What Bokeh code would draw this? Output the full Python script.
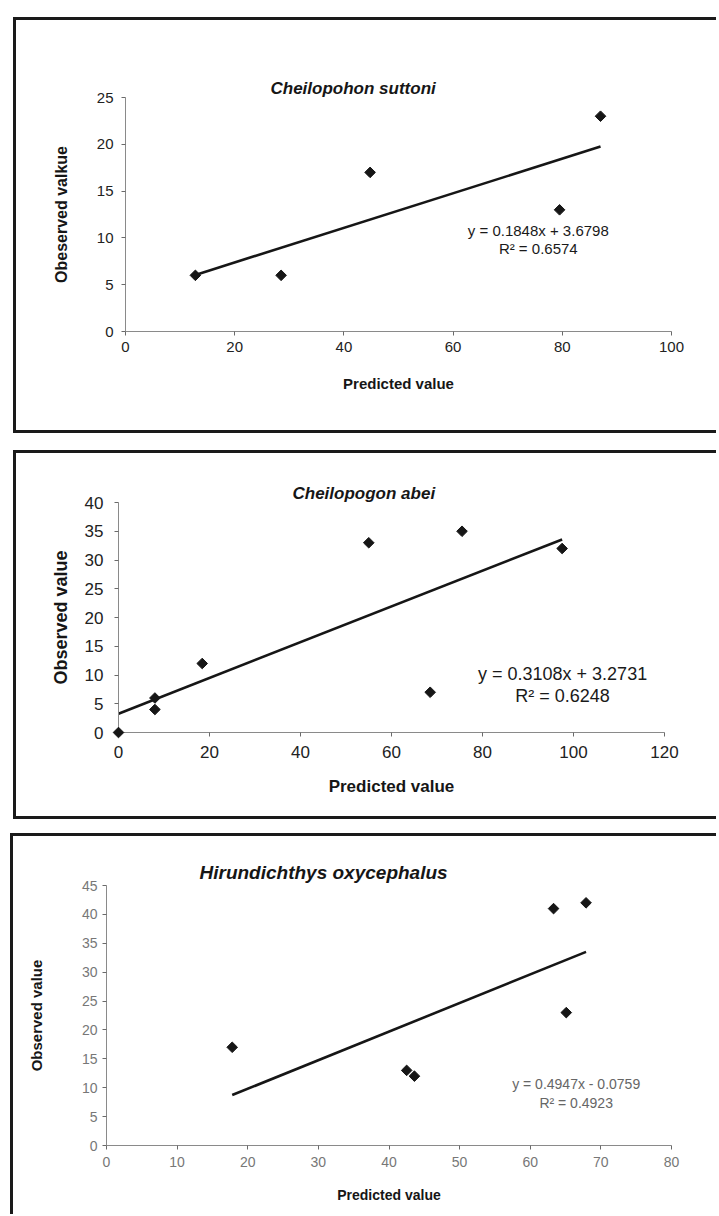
import math
from bokeh.plotting import figure
from bokeh.models import Range1d, SingleIntervalTicker, Label, Spacer
from bokeh.layouts import column, row
from bokeh.embed import file_html
from bokeh.resources import INLINE

# ---------------- data ----------------
title1 = "Cheilopohon suttoni"
pred1 = [12.8, 28.5, 44.8, 79.5, 87.0]
obs1 = [6, 6, 17, 13, 23]
slope1, intercept1, r2_1 = 0.1848, 3.6798, 0.6574
ylab1 = "Obeserved valkue"

title2 = "Cheilopogon abei"
pred2 = [0.0, 8.0, 8.0, 18.4, 55.0, 68.5, 75.5, 97.5]
obs2 = [0, 4, 6, 12, 33, 7, 35, 32]
slope2, intercept2, r2_2 = 0.3108, 3.2731, 0.6248
ylab2 = "Observed value"

title3 = "Hirundichthys oxycephalus"
pred3 = [17.8, 42.5, 43.6, 63.3, 65.1, 67.9]
obs3 = [17, 13, 12, 41, 23, 42]
slope3, intercept3, r2_3 = 0.4947, -0.0759, 0.4923
ylab3 = "Observed value"

xlab = "Predicted value"

FONT = "Liberation Sans"
INK = "#161616"
BG = {"background-color": "#1a1a1a"}


def eq_text(s, b):
    sign = "+" if b >= 0 else "-"
    return f"y = {s:.4f}x {sign} {abs(b):.4f}"


def make_panel(title, xs, ys, slope, intercept, r2, ylab, L):
    p = figure(width=L["w"], height=L["h"], title=title,
               x_range=Range1d(0, L["xmax"]), y_range=Range1d(0, L["ymax"]),
               output_backend="svg", toolbar_location=None,
               min_border_left=L["ml"], min_border_right=L["mr"],
               min_border_top=L["mt"], min_border_bottom=L["mb"])
    p.title.align = "left"
    p.title.offset = L["toff"]
    p.title.standoff = L["tstand"]
    p.title.text_font = FONT
    p.title.text_font_style = "bold italic"
    p.title.text_font_size = L["title_fs"]
    p.title.text_color = INK

    p.grid.visible = False
    p.outline_line_color = None
    p.background_fill_color = "white"
    p.border_fill_color = "white"
    p.xaxis.ticker = SingleIntervalTicker(interval=L["xstep"], num_minor_ticks=0)
    p.yaxis.ticker = SingleIntervalTicker(interval=L["ystep"], num_minor_ticks=0)
    for ax in (p.xaxis, p.yaxis):
        ax.axis_line_color = "#8a8a8a"
        ax.axis_line_width = 1
        ax.major_tick_line_color = "#6a6a6a"
        ax.major_tick_in = 0
        ax.major_tick_out = 4
        ax.minor_tick_line_color = None
        ax.major_label_text_font = FONT
        ax.major_label_text_font_size = L["tick_fs"]
        ax.major_label_text_color = L["tick_col"]
        ax.axis_label_text_font = FONT
        ax.axis_label_text_font_style = "bold"
        ax.axis_label_text_color = INK
    p.xaxis.major_label_standoff = L["xls"]
    p.yaxis.major_label_standoff = L["yls"]
    p.xaxis.axis_label = xlab
    p.yaxis.axis_label = ylab
    p.xaxis.axis_label_text_font_size = L["xlab_fs"]
    p.yaxis.axis_label_text_font_size = L["ylab_fs"]
    p.xaxis.axis_label_standoff = L["xas"]
    p.yaxis.axis_label_standoff = L["yas"]

    # linear trend line over the range of the data
    x0, x1 = min(xs), max(xs)
    p.line([x0, x1], [slope * x0 + intercept, slope * x1 + intercept],
           line_color=INK, line_width=2.6)
    r = p.scatter(xs, ys, marker="square", angle=math.pi / 4, size=7.5,
                  fill_color=INK, line_color=INK)
    r.level = "overlay"

    p.add_layout(Label(x=L["ex"], y=L["ey1"], text=eq_text(slope, intercept),
                       text_align="center", text_baseline="middle",
                       text_font=FONT, text_font_size=L["eq_fs"],
                       text_color=L["eq_col"]))
    p.add_layout(Label(x=L["ex"], y=L["ey2"], text=f"R\u00b2 = {r2:.4f}",
                       text_align="center", text_baseline="middle",
                       text_font=FONT, text_font_size=L["eq_fs"],
                       text_color=L["eq_col"]))
    return p


def framed(p, w, h, left_gap, bottom=True):
    kids = [Spacer(width=w + 3, height=3, styles=BG),
            row(Spacer(width=3, height=h, styles=BG), p)]
    if bottom:
        kids.append(Spacer(width=w + 3, height=3, styles=BG))
    return row(Spacer(width=left_gap, height=1), column(*kids))


L1 = dict(w=700, h=410, ml=109, mr=45, mt=77, mb=99, xmax=100, ymax=25, xstep=20, ystep=5,
          tick_fs="15px", tick_col="#222222", xls=6, yls=8, xlab_fs="15px", ylab_fs="16px",
          xas=20, yas=24, toff=145, tstand=0, title_fs="17px", ex=75.6, ey1=10.8, ey2=8.87,
          eq_fs="15px", eq_col="#1a1a1a")
L2 = dict(w=700, h=363, ml=102, mr=52, mt=49, mb=84, xmax=120, ymax=40, xstep=20, ystep=5,
          tick_fs="17px", tick_col="#222222", xls=9, yls=11, xlab_fs="17px", ylab_fs="18px",
          xas=16, yas=11, toff=174, tstand=0, title_fs="17px", ex=97.6, ey1=10.26, ey2=6.43,
          eq_fs="18px", eq_col="#1a1a1a")
L3 = dict(w=703, h=378, ml=93, mr=45, mt=49, mb=69, xmax=80, ymax=45, xstep=10, ystep=5,
          tick_fs="14px", tick_col="#777777", xls=7, yls=5, xlab_fs="14px", ylab_fs="15px",
          xas=17, yas=34, toff=93, tstand=6, title_fs="19px", ex=66.5, ey1=10.7, ey2=7.44,
          eq_fs="14px", eq_col="#666666")

p1 = make_panel(title1, pred1, obs1, slope1, intercept1, r2_1, ylab1, L1)
p2 = make_panel(title2, pred2, obs2, slope2, intercept2, r2_2, ylab2, L2)
p3 = make_panel(title3, pred3, obs3, slope3, intercept3, r2_3, ylab3, L3)

layout = column(
    Spacer(width=1, height=17),
    framed(p1, L1["w"], L1["h"], 13),
    Spacer(width=1, height=17),
    framed(p2, L2["w"], L2["h"], 13),
    Spacer(width=1, height=14),
    framed(p3, L3["w"], L3["h"], 10, bottom=False),
)

open("out.html", "w").write(file_html(layout, INLINE))
